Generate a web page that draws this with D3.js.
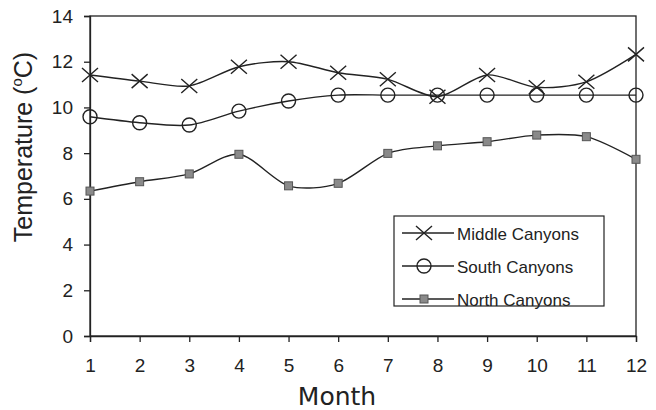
<!DOCTYPE html>
<html><head><meta charset="utf-8">
<script src="https://cdn.jsdelivr.net/npm/d3@7"></script>
<style>body{margin:0;background:#fff}</style>
</head><body><svg id="c" width="656" height="410"></svg>
<script>
const months = [1,2,3,4,5,6,7,8,9,10,11,12];
const middleCanyons = [11.42,11.15,10.94,11.78,12.0,11.52,11.23,10.47,11.42,10.88,11.12,12.32];
const southCanyons  = [9.59,9.33,9.23,9.84,10.28,10.54,10.54,10.54,10.54,10.54,10.54,10.54];
const northCanyons  = [6.34,6.75,7.09,7.95,6.57,6.68,7.99,8.32,8.5,8.79,8.72,7.73];
const yTicks = [0,2,4,6,8,10,12,14];
const seriesNames = ["Middle Canyons","South Canyons","North Canyons"];
const seriesMarkers = ["x","circle","square"];

const svg = d3.select("#c");
const x = d3.scaleLinear().domain([1,12]).range([90,636]);
const y = d3.scaleLinear().domain([0,14]).range([336,16]);

// frame
svg.append("rect").attr("x",90).attr("y",16).attr("width",546).attr("height",320)
  .attr("fill","none").attr("stroke","#222").attr("stroke-width",1.3);

const yAxis = svg.append("g").attr("transform","translate(90,0)")
  .call(d3.axisLeft(y).tickValues(yTicks).tickSize(6).tickPadding(11));
const xAxis = svg.append("g").attr("transform","translate(0,336)")
  .call(d3.axisBottom(x).tickValues(months).tickSize(6).tickPadding(17));
[yAxis,xAxis].forEach(a=>{
  a.select(".domain").attr("stroke","#222").attr("stroke-width",1.3);
  a.selectAll(".tick line").attr("stroke","#222").attr("stroke-width",1.3);
  a.selectAll("text").attr("font-family","Liberation Sans, Arial, sans-serif").attr("font-size",19).attr("fill","#222");
});

svg.append("text").attr("x",337).attr("y",405).attr("text-anchor","middle")
  .attr("font-family","DejaVu Sans, Verdana, sans-serif").attr("font-size",25).attr("fill","#222").text("Month");
const yt = svg.append("text").attr("transform","translate(32,147) rotate(-90)").attr("text-anchor","middle")
  .attr("font-family","Liberation Sans, Arial, sans-serif").attr("font-size",25).attr("fill","#222");
yt.append("tspan").text("Temperature (");
yt.append("tspan").attr("font-size",15).attr("dy",-10).text("o");
yt.append("tspan").attr("dy",10).text("C)");

const line = d3.line().x((d,i)=>x(months[i])).y(d=>y(d)).curve(d3.curveCardinal.tension(0.15));
const data = [middleCanyons, southCanyons, northCanyons];

function marker(g, type, cx, cy){
  if(type==="x"){
    g.append("path").attr("d",`M${cx-8},${cy-7}L${cx+8},${cy+7}M${cx-8},${cy+7}L${cx+8},${cy-7}`)
      .attr("stroke","#222").attr("stroke-width",1.4).attr("fill","none");
  } else if(type==="circle"){
    g.append("circle").attr("cx",cx).attr("cy",cy).attr("r",7)
      .attr("fill","#fff").attr("fill-opacity",0).attr("stroke","#222").attr("stroke-width",1.4);
  } else {
    g.append("rect").attr("x",cx-4).attr("y",cy-4).attr("width",8).attr("height",8)
      .attr("fill","#8a8a8a").attr("stroke","#555").attr("stroke-width",1);
  }
}

data.forEach((vals,k)=>{
  const g = svg.append("g");
  g.append("path").attr("d",line(vals)).attr("fill","none").attr("stroke","#222").attr("stroke-width",1.4);
  vals.forEach((v,i)=>marker(g, seriesMarkers[k], x(months[i]), y(v)));
});

// legend
const lg = svg.append("g");
lg.append("rect").attr("x",394).attr("y",216).attr("width",210).attr("height",90)
  .attr("fill","#fff").attr("stroke","#222").attr("stroke-width",1.2);
seriesNames.forEach((n,i)=>{
  const ly = 233 + i*33;
  lg.append("line").attr("x1",402).attr("x2",454).attr("y1",ly).attr("y2",ly).attr("stroke","#222").attr("stroke-width",1.4);
  marker(lg, seriesMarkers[i], 424, ly);
  lg.append("text").attr("x",457).attr("y",ly+6.5).attr("font-family","Liberation Sans, Arial, sans-serif")
    .attr("font-size",17).attr("fill","#222").text(n);
});
</script></body></html>
